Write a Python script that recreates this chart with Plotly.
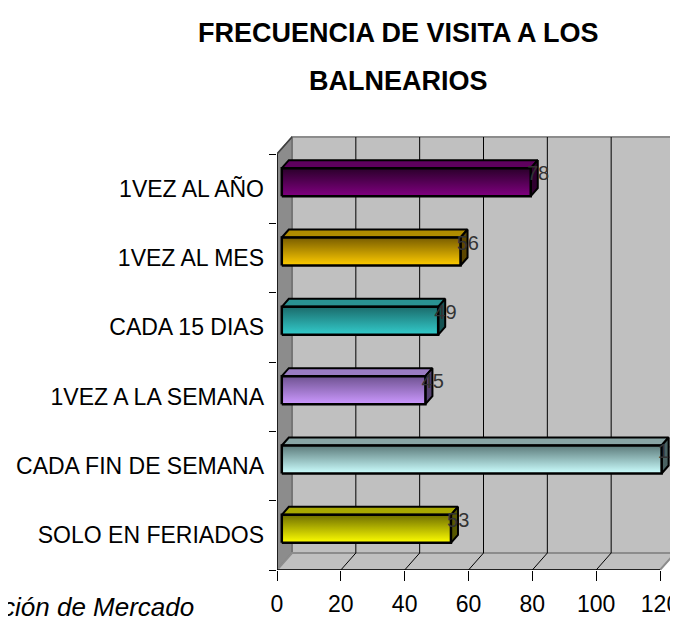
import plotly.graph_objects as go

# ---- data (bottom to top, as drawn) ----
categories = ["SOLO EN FERIADOS", "CADA FIN DE SEMANA", "1VEZ A LA SEMANA",
              "CADA 15 DIAS", "1VEZ AL MES", "1VEZ AL AÑO"]
values = [53, 119, 45, 49, 56, 78]
x_ticks = [0, 20, 40, 60, 80, 100, 120]
title_lines = ["FRECUENCIA DE VISITA A LOS", "BALNEARIOS"]
footer = "ción de Mercado"

# ---- styles ----
face_bottom = ["#FFFF00", "#CCFFFF", "#CC99FF", "#33CCCC", "#FFCC00", "#800080"]
face_top = ["#6E6E00", "#5C7A7A", "#6E5290", "#1B6B6B", "#785C00", "#2A002A"]
lid = ["#A8A800", "#88A4A4", "#9A7CC2", "#2A9292", "#B08C00", "#5E005E"]
side = ["#585800", "#4A6262", "#564270", "#145252", "#5C4600", "#300030"]

DX, DY = 4.7, 0.245        # wall depth (x units, band units)
BX, BY, BH = 1.5, 0.094, 0.202   # bar front face offset and half height
DDX, DDY = 2.2, 0.115      # bar depth
XMAX = x_ticks[-1]
N = len(categories)

# page body has an 8px margin: figure is placed at (8, 8) of the window
OFF = 8
W, H = 678 - OFF, 618 - OFF
AX_LEFT, AX_BOTTOM, AX_TOP, AX_120 = 277 - OFF, 570 - OFF, 154 - OFF, 660 - OFF
L, R, T = AX_LEFT, 0, 130 - OFF
B = H - AX_BOTTOM
plot_w = W - L - R
plot_h = H - T - B

def px_x(sx):
    return (sx - OFF - L) / plot_w

def px_y(sy):
    return (AX_BOTTOM - (sy - OFF)) / plot_h

fig = go.Figure()

def poly(xs, ys, fill, line="black", lw=1, grad=None):
    kw = dict(x=xs + [xs[0]], y=ys + [ys[0]], mode="lines", fill="toself",
              fillcolor=fill, line=dict(color=line, width=lw),
              hoverinfo="skip", showlegend=False)
    if grad is not None:
        kw["fillgradient"] = grad
    fig.add_trace(go.Scatter(**kw))

def seg(xs, ys, color="black", lw=1):
    fig.add_trace(go.Scatter(x=xs, y=ys, mode="lines", line=dict(color=color, width=lw),
                             hoverinfo="skip", showlegend=False))

y0, y1 = -0.5, N - 0.5
# back wall
poly([DX, XMAX + DX, XMAX + DX, DX], [y0 + DY, y0 + DY, y1 + DY, y1 + DY], "#C0C0C0", "#8C8C8C", 2)
# left wall
poly([0, DX, DX, 0], [y0, y0 + DY, y1 + DY, y1], "#8C8C8C", "#6E6E6E", 1.5)
# floor
poly([0, XMAX, XMAX + DX, DX], [y0, y0, y0 + DY, y0 + DY], "#C0C0C0", "#8C8C8C", 2)
# grid lines on back wall & floor
for t in x_ticks[1:-1]:
    seg([t + DX, t + DX], [y0 + DY, y1 + DY], "black", 1)
    seg([t, t + DX], [y0, y0 + DY], "black", 1)
# front axis lines
seg([0, XMAX], [y0, y0], "black", 1.5)
seg([0, 0], [y0, y1], "black", 1.5)
seg([0, DX], [y1, y1 + DY], "#404040", 1.5)

# bars
for i, v in enumerate(values):
    xa, xb = BX, v + BX
    yb, yt = i + BY - BH, i + BY + BH
    poly([xa, xb, xb + DDX, xa + DDX], [yt, yt, yt + DDY, yt + DDY], lid[i], "black", 2)
    poly([xb, xb + DDX, xb + DDX, xb], [yb, yb + DDY, yt + DDY, yt], side[i], "black", 2)
    poly([xa, xb, xb, xa], [yb, yb, yt, yt], face_bottom[i], "black", 2.5,
         grad=dict(type="vertical", start=yb, stop=yt,
                   colorscale=[[0, face_bottom[i]], [1, face_top[i]]]))

# value labels (drawn over the bar ends)
fig.add_trace(go.Scatter(
    x=[v + BX - 1.2 for v in values], y=[i + BY + 0.1 for i in range(N)],
    mode="text", text=[str(v) for v in values], textposition="middle right",
    textfont=dict(family="Liberation Sans, Arial", size=20, color="#333333"),
    cliponaxis=False, hoverinfo="skip", showlegend=False))

# dummy trace for boundary-tick axis
fig.add_trace(go.Scatter(x=[0], y=[0], yaxis="y2", mode="markers",
                         marker=dict(opacity=0), hoverinfo="skip", showlegend=False))

band = (AX_BOTTOM - AX_TOP) / N
ytop = y0 + plot_h / band
xright = plot_w / ((AX_120 - AX_LEFT) / XMAX)

fig.update_layout(
    width=W, height=H, margin=dict(l=L, r=R, t=T, b=B, autoexpand=False),
    paper_bgcolor="white", plot_bgcolor="white",
    xaxis=dict(range=[0, xright], tickvals=x_ticks, ticktext=[str(t) for t in x_ticks],
               ticks="outside", ticklen=10, tickcolor="black", tickwidth=1,
               showgrid=False, zeroline=False, showline=False, ticklabelstandoff=3,
               ticklabeloverflow="allow",
               tickfont=dict(family="Liberation Sans, Arial", size=23, color="black")),
    yaxis=dict(range=[y0, ytop], tickvals=list(range(N)), ticktext=categories,
               ticks="", showgrid=False, zeroline=False, showline=False,
               ticklabelstandoff=12,
               tickfont=dict(family="Liberation Sans, Arial", size=23, color="black")),
    yaxis2=dict(range=[y0, ytop], overlaying="y", side="left",
                tickvals=[k - 0.5 for k in range(N + 1)], showticklabels=False,
                ticks="outside", ticklen=7, tickcolor="black",
                showgrid=False, zeroline=False, showline=False),
    annotations=[
        dict(text="<b>" + title_lines[0] + "</b>", xref="paper", yref="paper",
             x=px_x(398), y=px_y(33), xanchor="center", yanchor="middle",
             showarrow=False, font=dict(family="Liberation Sans, Arial", size=27, color="black")),
        dict(text="<b>" + title_lines[1] + "</b>", xref="paper", yref="paper",
             x=px_x(398), y=px_y(81), xanchor="center", yanchor="middle",
             showarrow=False, font=dict(family="Liberation Sans, Arial", size=27, color="black")),
        dict(text="<i>" + footer + "</i>", xref="paper", yref="paper",
             x=px_x(196), y=px_y(607), xanchor="right", yanchor="middle",
             showarrow=False, font=dict(family="Liberation Sans, Arial", size=26, color="black")),
    ],
)

fig.write_html("out.html")
